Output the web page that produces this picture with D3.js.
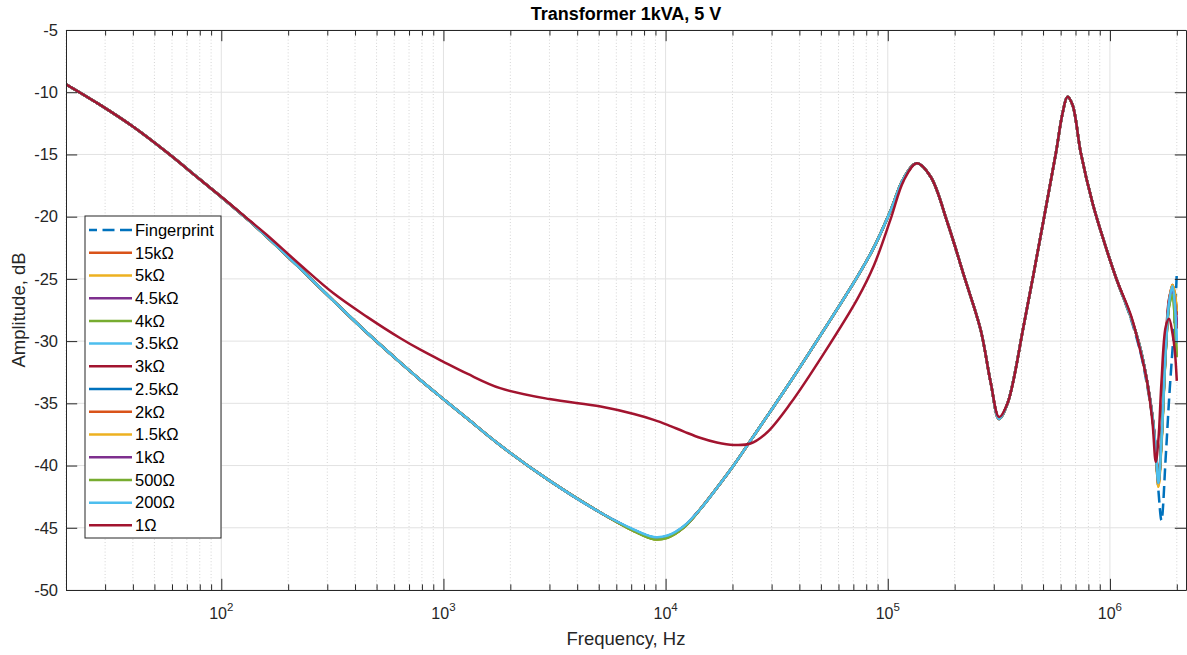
<!DOCTYPE html>
<html>
<head>
<meta charset="utf-8">
<script src="https://cdn.jsdelivr.net/npm/d3@7"></script>
<style>
  html, body { margin: 0; padding: 0; background: #ffffff; }
  svg { display: block; font-family: "Liberation Sans", Arial, Helvetica, sans-serif; }
</style>
</head>
<body>
<svg id="chart" width="1187" height="655"></svg>
<script>
// Frequency points (Hz) shared by all measured traces
const freq = [20, 28.5, 40, 58, 80, 100, 133, 160, 227, 320, 453, 640, 787, 1000, 1280, 1800, 3000, 5100,
  7200, 8850, 10200, 12100, 14400, 17000, 20300, 24100, 28600, 36500, 51600, 73000, 86700, 103000, 118000,
  135000, 156000, 186000, 221000, 262000, 291000, 317000, 346000, 411000, 506000, 571000, 612000, 644000,
  679000, 740000, 836000, 926000, 1074000, 1241000, 1376000, 1475000, 1554000, 1608000, 1653000, 1706000,
  1783000, 1846000, 1912000, 1960000, 2000000];

// Amplitude (dB) of each trace at the frequencies above
const fingerprint = [-9.36, -11.02, -12.76, -14.95, -17.0, -18.42, -20.3, -21.6, -24.18, -26.76, -29.33, -31.73, -33.12, -34.66, -36.22, -38.37, -41.21, -43.79,
  -45.18, -45.78, -45.66, -44.88,
  -43.45, -41.8, -39.95, -38.0, -36.05, -33.25, -29.1, -24.82, -22.45, -19.5, -16.9, -15.71, -16.79, -20.53, -24.82, -29.11, -33.39, -36.25, -35.0, -28.57, -20.0, -14.91, -11.69, -10.36, -11.03, -14.91, -18.93, -21.61, -25.09, -28.2, -31.0,
  -33.7, -36.3, -39.1, -42.0, -44.4, -39.3, -34.7, -30.7, -28.0, -24.5];
const r15k = [-9.36, -11.02, -12.76, -14.95, -17.0, -18.42, -20.3, -21.6, -24.18, -26.76, -29.33, -31.73, -33.12, -34.66, -36.22, -38.37, -41.21, -43.79,
  -45.22, -45.84, -45.72, -44.92,
  -43.45, -41.8, -39.95, -38.0, -36.05, -33.25, -29.1, -24.82, -22.45, -19.5, -16.9, -15.71, -16.79, -20.53, -24.82, -29.11, -33.39, -36.25, -35.0, -28.57, -20.0, -14.91, -11.69, -10.36, -11.03, -14.91, -18.93, -21.61, -25.09, -28.04, -30.71,
  -33.4, -36.1, -38.8, -41.5, -37.8, -30.4, -26.7, -25.5, -26.3, -27.8];
const r5k = [-9.36, -11.02, -12.76, -14.95, -17.0, -18.42, -20.3, -21.6, -24.18, -26.76, -29.33, -31.73, -33.12, -34.66, -36.22, -38.37, -41.21, -43.79,
  -45.26, -45.9, -45.78, -44.96,
  -43.45, -41.8, -39.95, -38.0, -36.05, -33.25, -29.1, -24.82, -22.45, -19.5, -16.9, -15.71, -16.79, -20.53, -24.82, -29.11, -33.39, -36.25, -35.0, -28.57, -20.0, -14.91, -11.69, -10.36, -11.03, -14.91, -18.93, -21.61, -25.09, -28.04, -30.71,
  -33.45, -36.15, -38.9, -41.7, -38.3, -30.9, -27.0, -25.5, -26.2, -27.6];
const r4_5k = [-9.36, -11.02, -12.76, -14.95, -17.0, -18.42, -20.3, -21.6, -24.18, -26.76, -29.33, -31.73, -33.12, -34.66, -36.22, -38.37, -41.21, -43.79,
  -45.24, -45.87, -45.75, -44.94,
  -43.45, -41.8, -39.95, -38.0, -36.05, -33.25, -29.1, -24.82, -22.45, -19.5, -16.9, -15.71, -16.79, -20.53, -24.82, -29.11, -33.39, -36.25, -35.0, -28.57, -20.0, -14.91, -11.69, -10.36, -11.03, -14.91, -18.93, -21.61, -25.09, -28.04, -30.71,
  -33.4, -36.1, -38.8, -41.4, -37.9, -30.6, -26.9, -25.8, -26.9, -28.7];
const r4k = [-9.36, -11.02, -12.76, -14.95, -17.0, -18.42, -20.3, -21.6, -24.18, -26.76, -29.33, -31.73, -33.12, -34.66, -36.22, -38.37, -41.21, -43.79,
  -45.27, -45.92, -45.8, -44.97,
  -43.45, -41.8, -39.95, -38.0, -36.05, -33.25, -29.1, -24.82, -22.45, -19.5, -16.9, -15.71, -16.79, -20.53, -24.82, -29.11, -33.39, -36.25, -35.0, -28.57, -20.0, -14.91, -11.69, -10.36, -11.03, -14.91, -18.93, -21.61, -25.09, -28.04, -30.71,
  -33.4, -36.1, -38.8, -41.3, -38.0, -30.8, -27.2, -26.2, -28.4, -31.2];
const r3_5k = [-9.36, -11.02, -12.76, -14.95, -17.0, -18.42, -20.3, -21.6, -24.18, -26.76, -29.33, -31.73, -33.12, -34.66, -36.22, -38.37, -41.21, -43.79,
  -45.16, -45.77, -45.65, -44.87,
  -43.45, -41.8, -39.95, -38.0, -36.05, -33.25, -29.1, -24.82, -22.45, -19.5, -16.9, -15.71, -16.79, -20.53, -24.82, -29.11, -33.39, -36.25, -35.0, -28.57, -20.0, -14.91, -11.69, -10.36, -11.03, -14.91, -18.93, -21.61, -25.09, -28.04, -30.71,
  -33.4, -36.1, -38.8, -41.4, -38.0, -30.7, -26.9, -25.6, -27.1, -30.2];
const r3k = [-9.36, -11.02, -12.76, -14.95, -17.0, -18.42, -20.3, -21.6, -24.18, -26.76, -29.33, -31.73, -33.12, -34.66, -36.22, -38.37, -41.21, -43.79,
  -45.22, -45.84, -45.72, -44.92,
  -43.45, -41.8, -39.95, -38.0, -36.05, -33.25, -29.1, -24.82, -22.45, -19.5, -16.9, -15.71, -16.79, -20.53, -24.82, -29.11, -33.39, -36.25, -35.0, -28.57, -20.0, -14.91, -11.69, -10.36, -11.03, -14.91, -18.93, -21.61, -25.09, -28.04, -30.71,
  -33.35, -36.0, -38.6, -41.2, -37.5, -30.2, -26.6, -25.8, -27.0, -29.0];
const r2_5k = [-9.36, -11.02, -12.76, -14.95, -17.0, -18.42, -20.3, -21.6, -24.18, -26.76, -29.33, -31.73, -33.12, -34.66, -36.22, -38.37, -41.21, -43.79,
  -45.18, -45.79, -45.68, -44.89,
  -43.45, -41.8, -39.95, -38.0, -36.05, -33.25, -29.1, -24.82, -22.45, -19.5, -16.9, -15.71, -16.79, -20.53, -24.82, -29.11, -33.39, -36.25, -35.0, -28.57, -20.0, -14.91, -11.69, -10.36, -11.03, -14.91, -18.93, -21.61, -25.09, -28.04, -30.71,
  -33.4, -36.1, -38.8, -41.5, -38.1, -30.8, -27.0, -25.6, -26.4, -27.9];
const r2k = [-9.36, -11.02, -12.76, -14.95, -17.0, -18.42, -20.3, -21.6, -24.18, -26.76, -29.33, -31.73, -33.12, -34.66, -36.22, -38.37, -41.21, -43.79,
  -45.22, -45.84, -45.72, -44.92,
  -43.45, -41.8, -39.95, -38.0, -36.05, -33.25, -29.1, -24.82, -22.45, -19.5, -16.9, -15.71, -16.79, -20.53, -24.82, -29.11, -33.39, -36.25, -35.0, -28.57, -20.0, -14.91, -11.69, -10.36, -11.03, -14.91, -18.93, -21.61, -25.09, -28.04, -30.71,
  -33.4, -36.1, -38.8, -41.5, -37.9, -30.5, -26.8, -25.5, -26.3, -27.9];
const r1_5k = [-9.36, -11.02, -12.76, -14.95, -17.0, -18.42, -20.3, -21.6, -24.18, -26.76, -29.33, -31.73, -33.12, -34.66, -36.22, -38.37, -41.21, -43.79,
  -45.26, -45.9, -45.78, -44.96,
  -43.45, -41.8, -39.95, -38.0, -36.05, -33.25, -29.1, -24.82, -22.45, -19.5, -16.9, -15.71, -16.79, -20.53, -24.82, -29.11, -33.39, -36.25, -35.0, -28.57, -20.0, -14.91, -11.69, -10.36, -11.03, -14.91, -18.93, -21.61, -25.09, -28.04, -30.71,
  -33.45, -36.15, -38.9, -41.7, -38.3, -30.9, -27.0, -25.5, -26.2, -27.6];
const r1k = [-9.36, -11.02, -12.76, -14.95, -17.0, -18.42, -20.3, -21.6, -24.18, -26.76, -29.33, -31.73, -33.12, -34.66, -36.22, -38.37, -41.21, -43.79,
  -45.24, -45.87, -45.75, -44.94,
  -43.45, -41.8, -39.95, -38.0, -36.05, -33.25, -29.1, -24.82, -22.45, -19.5, -16.9, -15.71, -16.79, -20.53, -24.82, -29.11, -33.39, -36.25, -35.0, -28.57, -20.0, -14.91, -11.69, -10.36, -11.03, -14.91, -18.93, -21.61, -25.09, -28.04, -30.71,
  -33.4, -36.1, -38.8, -41.4, -37.9, -30.6, -26.9, -25.8, -26.9, -28.6];
const r500 = [-9.36, -11.02, -12.76, -14.95, -17.0, -18.42, -20.3, -21.6, -24.18, -26.76, -29.33, -31.73, -33.12, -34.66, -36.22, -38.37, -41.21, -43.79,
  -45.27, -45.92, -45.8, -44.97,
  -43.45, -41.8, -39.95, -38.0, -36.05, -33.25, -29.1, -24.82, -22.45, -19.5, -16.9, -15.71, -16.79, -20.53, -24.82, -29.11, -33.39, -36.25, -35.0, -28.57, -20.0, -14.91, -11.69, -10.36, -11.03, -14.91, -18.93, -21.61, -25.09, -28.04, -30.71,
  -33.4, -36.1, -38.8, -41.3, -38.0, -30.8, -27.2, -26.3, -28.5, -31.3];
const r200 = [-9.36, -11.02, -12.76, -14.95, -17.0, -18.42, -20.3, -21.6, -24.18, -26.76, -29.33, -31.73, -33.12, -34.66, -36.22, -38.37, -41.21, -43.79,
  -45.14, -45.74, -45.62, -44.85,
  -43.45, -41.8, -39.95, -38.0, -36.05, -33.25, -29.1, -24.82, -22.45, -19.5, -16.9, -15.71, -16.79, -20.53, -24.82, -29.11, -33.39, -36.25, -35.0, -28.57, -20.0, -14.91, -11.69, -10.36, -11.03, -14.91, -18.93, -21.61, -25.09, -28.04, -30.71,
  -33.39, -36.07, -38.75, -41.4, -38.0, -30.7, -26.9, -25.6, -27.1, -30.1];
const r1 = [-9.36, -11.02, -12.76, -14.95, -17.0, -18.4, -20.25, -21.45, -23.88, -26.16, -28.05, -29.77, -30.69, -31.66, -32.62, -33.78, -34.66, -35.26,
  -35.86, -36.33, -36.73, -37.27,
  -37.79, -38.15, -38.34, -38.23, -37.34, -35.0, -30.98, -26.6, -23.9, -20.2, -17.1, -15.71, -16.79, -20.53, -24.82, -29.11, -33.39, -36.1, -35.0, -28.57, -20.0, -14.91, -11.69, -10.36, -11.03, -14.91, -18.93, -21.61, -25.09, -27.9, -30.9,
  -33.4, -36.5, -39.7, -37.9, -33.3, -28.84, -28.2, -29.37, -30.8, -33.2];

const seriesNames = ["Fingerprint", "15kΩ", "5kΩ", "4.5kΩ", "4kΩ", "3.5kΩ", "3kΩ", "2.5kΩ", "2kΩ", "1.5kΩ", "1kΩ", "500Ω", "200Ω", "1Ω"];
const seriesValues = [fingerprint, r15k, r5k, r4_5k, r4k, r3_5k, r3k, r2_5k, r2k, r1_5k, r1k, r500, r200, r1];

// Axis ticks
const xTickExponents = [2, 3, 4, 5, 6];
const yTicks = [-50, -45, -40, -35, -30, -25, -20, -15, -10, -5];

// ---- styling / layout ----
const palette = ["#0072BD", "#D95319", "#EDB120", "#7E2F8E", "#77AC30", "#4DBEEE", "#A2142F"];
const plot = { left: 66, right: 1186, top: 30, bottom: 590 };
const axisColor = "#262626";
const majorLen = 11.2, minorLen = 5.6;

const svg = d3.select("#chart");

const x = d3.scaleLog().domain([20, 2.2e6]).range([plot.left, plot.right]);
const y = d3.scaleLinear().domain([-50, -5]).range([plot.bottom, plot.top]);

const majorX = xTickExponents.map(e => Math.pow(10, e));
const minorX = x.ticks().filter(v => {
  const l = Math.log10(v);
  return Math.abs(l - Math.round(l)) > 1e-9;
});

// grid
const grid = svg.append("g");
grid.selectAll("line.minor").data(minorX).join("line")
  .attr("x1", d => x(d)).attr("x2", d => x(d))
  .attr("y1", plot.top).attr("y2", plot.bottom)
  .attr("stroke", "#d4d4d4").attr("stroke-width", 1).attr("stroke-dasharray", "1,2.2");
grid.selectAll("line.majx").data(majorX).join("line")
  .attr("x1", d => x(d)).attr("x2", d => x(d))
  .attr("y1", plot.top).attr("y2", plot.bottom)
  .attr("stroke", "#e2e2e2").attr("stroke-width", 1);
grid.selectAll("line.majy").data(yTicks).join("line")
  .attr("x1", plot.left).attr("x2", plot.right)
  .attr("y1", d => y(d)).attr("y2", d => y(d))
  .attr("stroke", "#e2e2e2").attr("stroke-width", 1);

// traces
svg.append("defs").append("clipPath").attr("id", "plotclip")
  .append("rect").attr("x", plot.left).attr("y", plot.top)
  .attr("width", plot.right - plot.left).attr("height", plot.bottom - plot.top);

const line = d3.line()
  .x(d => x(d[0]))
  .y(d => y(d[1]))
  .curve(d3.curveCatmullRom.alpha(0.5));

const traces = svg.append("g").attr("clip-path", "url(#plotclip)");
seriesValues.forEach((vals, i) => {
  const pts = freq.map((f, k) => [f, vals[k]]);
  traces.append("path")
    .datum(pts)
    .attr("d", line)
    .attr("fill", "none")
    .attr("stroke", palette[i % palette.length])
    .attr("stroke-width", 2.5)
    .attr("stroke-linejoin", "round")
    .attr("stroke-dasharray", i === 0 ? "12,5.5" : null);
});

// axes (box with inward ticks on all sides)
function styleAxis(g) {
  g.attr("color", axisColor);
  g.selectAll("path.domain").attr("stroke-width", 1);
  g.selectAll(".tick line").attr("stroke-width", 1);
}
svg.append("g").attr("transform", `translate(0,${plot.bottom})`)
  .call(d3.axisBottom(x).tickValues(majorX).tickSizeInner(-majorLen).tickSizeOuter(0).tickFormat(""))
  .call(styleAxis);
svg.append("g").attr("transform", `translate(0,${plot.bottom})`)
  .call(d3.axisBottom(x).tickValues(minorX).tickSizeInner(-minorLen).tickSizeOuter(0).tickFormat(""))
  .call(g => g.select("path.domain").remove())
  .call(styleAxis);
svg.append("g").attr("transform", `translate(0,${plot.top})`)
  .call(d3.axisTop(x).tickValues(majorX).tickSizeInner(-majorLen).tickSizeOuter(0).tickFormat(""))
  .call(styleAxis);
svg.append("g").attr("transform", `translate(0,${plot.top})`)
  .call(d3.axisTop(x).tickValues(minorX).tickSizeInner(-minorLen).tickSizeOuter(0).tickFormat(""))
  .call(g => g.select("path.domain").remove())
  .call(styleAxis);
svg.append("g").attr("transform", `translate(${plot.left},0)`)
  .call(d3.axisLeft(y).tickValues(yTicks).tickSizeInner(-majorLen).tickSizeOuter(0).tickPadding(8)
    .tickFormat(d => String(d)))
  .call(styleAxis)
  .call(g => g.selectAll(".tick text")
    .attr("font-family", "'Liberation Sans', Arial, sans-serif")
    .attr("font-size", 16.5).attr("fill", axisColor));
svg.append("g").attr("transform", `translate(${plot.right},0)`)
  .call(d3.axisRight(y).tickValues(yTicks).tickSizeInner(-majorLen).tickSizeOuter(0).tickFormat(""))
  .call(styleAxis);

// x tick labels as powers of ten
const xLabels = svg.append("g").attr("fill", axisColor);
xTickExponents.forEach(e => {
  const t = xLabels.append("text")
    .attr("x", x(Math.pow(10, e)))
    .attr("y", 619)
    .attr("text-anchor", "middle")
    .attr("font-size", 16);
  t.append("tspan").text("10");
  t.append("tspan").attr("dy", -8).attr("font-size", 11.5).text(String(e));
});

// axis labels and title
svg.append("text")
  .attr("x", (plot.left + plot.right) / 2).attr("y", 645)
  .attr("text-anchor", "middle").attr("font-size", 18.5).attr("fill", axisColor)
  .text("Frequency, Hz");
svg.append("text")
  .attr("transform", `translate(25,${(plot.top + plot.bottom) / 2}) rotate(-90)`)
  .attr("text-anchor", "middle").attr("font-size", 18.5).attr("fill", axisColor)
  .text("Amplitude, dB");
svg.append("text")
  .attr("x", (plot.left + plot.right) / 2).attr("y", 20)
  .attr("text-anchor", "middle").attr("font-size", 18).attr("font-weight", "bold").attr("fill", "#000")
  .text("Transformer 1kVA, 5 V");

// legend
const legend = svg.append("g").attr("transform", "translate(85,216)");
const rowH = 22.72;
legend.append("rect")
  .attr("x", 0).attr("y", 0).attr("width", 136).attr("height", 322)
  .attr("fill", "#ffffff").attr("stroke", axisColor).attr("stroke-width", 1);
const rows = legend.selectAll("g.row").data(seriesNames).join("g")
  .attr("transform", (d, i) => `translate(0,${14 + i * rowH})`);
rows.append("line")
  .attr("x1", 4).attr("x2", 47).attr("y1", 0).attr("y2", 0)
  .attr("stroke", (d, i) => palette[i % palette.length])
  .attr("stroke-width", 2.5)
  .attr("stroke-dasharray", (d, i) => i === 0 ? "12,5.5" : null)
  .attr("stroke-dashoffset", (d, i) => i === 0 ? 4 : null);
rows.append("text")
  .attr("x", 50).attr("y", 0).attr("dy", "0.35em")
  .attr("font-size", 16.5).attr("fill", "#000")
  .text(d => d);
</script>
</body>
</html>
